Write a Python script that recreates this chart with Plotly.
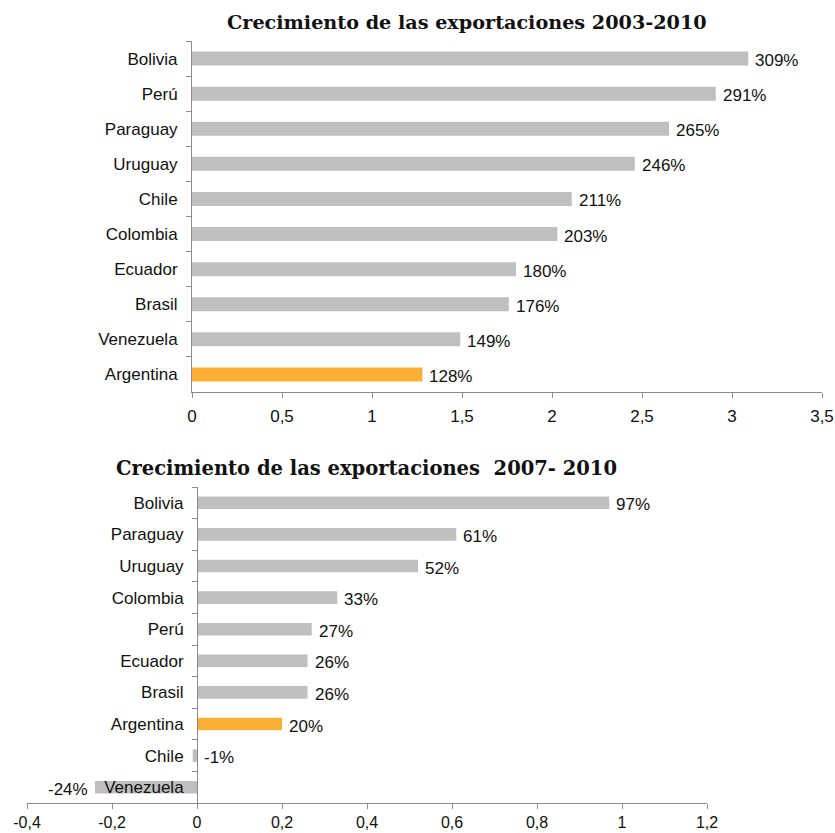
import plotly.graph_objects as go

# Export growth 2003-2010 (ratio, shown as %)
countries_0310 = ["Bolivia", "Perú", "Paraguay", "Uruguay", "Chile", "Colombia",
                  "Ecuador", "Brasil", "Venezuela", "Argentina"]
growth_0310 = [3.09, 2.91, 2.65, 2.46, 2.11, 2.03, 1.80, 1.76, 1.49, 1.28]

# Export growth 2007-2010
countries_0710 = ["Bolivia", "Paraguay", "Uruguay", "Colombia", "Perú", "Ecuador",
                  "Brasil", "Argentina", "Chile", "Venezuela"]
growth_0710 = [0.97, 0.61, 0.52, 0.33, 0.27, 0.26, 0.26, 0.20, -0.01, -0.24]

ticks_top = [0, 0.5, 1, 1.5, 2, 2.5, 3, 3.5]
ticktext_top = ["0", "0,5", "1", "1,5", "2", "2,5", "3", "3,5"]
ticks_bot = [-0.4, -0.2, 0, 0.2, 0.4, 0.6, 0.8, 1.0, 1.2]
ticktext_bot = ["-0,4", "-0,2", "0", "0,2", "0,4", "0,6", "0,8", "1", "1,2"]

title_top = "Crecimiento de las exportaciones 2003-2010"
title_bot = "Crecimiento de las exportaciones  2007- 2010"

W, H = 835, 833
GREY = "#BFBFBF"
ORANGE = "#FBB034"
AXIS = "#8C8C8C"
TEXT = "#111111"
FONT = "Liberation Sans, Arial, sans-serif"
TFONT = "DejaVu Serif, Georgia, serif"
FS = 17


def colors(names):
    return [ORANGE if n == "Argentina" else GREY for n in names]


def pct(v):
    return f"{round(v * 100):d}%"


fig = go.Figure()
fig.add_trace(go.Bar(x=growth_0310, y=countries_0310, orientation="h",
                     marker=dict(color=colors(countries_0310), line=dict(width=0)),
                     xaxis="x", yaxis="y", hoverinfo="skip"))
fig.add_trace(go.Bar(x=growth_0710, y=countries_0710, orientation="h",
                     marker=dict(color=colors(countries_0710), line=dict(width=0)),
                     xaxis="x2", yaxis="y2", hoverinfo="skip"))

annotations = []
for names, vals, xr, yr in [(countries_0310, growth_0310, "x", "y"),
                            (countries_0710, growth_0710, "x2", "y2")]:
    for n, v in zip(names, vals):
        left = v < -0.1
        annotations.append(dict(
            x=v if left else max(v, 0), y=n, xref=xr, yref=yr,
            text=pct(v), showarrow=False,
            xanchor="right" if left else "left",
            xshift=-5 if left else 5, yshift=-2,
            font=dict(family=FONT, size=FS, color=TEXT)))

annotations.append(dict(x=467 / W, y=1 - 22 / H, xref="paper", yref="paper",
                        text=f"<b>{title_top}</b>", showarrow=False,
                        xanchor="center", yanchor="middle",
                        font=dict(family=TFONT, size=19.2, color="#111")))
annotations.append(dict(x=366 / W, y=1 - 468 / H, xref="paper", yref="paper",
                        text=f"<b>{title_bot}</b>", showarrow=False,
                        xanchor="center", yanchor="middle",
                        font=dict(family=TFONT, size=19.5, color="#111")))

axis_common = dict(showgrid=False, zeroline=False, showline=True, linecolor=AXIS,
                   linewidth=1, ticks="outside", ticklen=5, tickcolor=AXIS,
                   automargin=False)
tick_font = dict(family=FONT, size=FS, color=TEXT)

fig.update_layout(
    width=W, height=H, margin=dict(l=0, r=0, t=0, b=0, autoexpand=False),
    paper_bgcolor="white", plot_bgcolor="white",
    showlegend=False, bargap=0.6,
    xaxis=dict(domain=[192 / W, 822 / W], range=[0, 3.5], anchor="y",
               tickvals=ticks_top, ticktext=ticktext_top, ticklabelstandoff=4,
               tickfont=tick_font, **axis_common),
    yaxis=dict(domain=[1 - 392 / H, 1 - 41 / H], anchor="x", autorange="reversed",
               type="category", tickson="boundaries", ticklabelstandoff=10,
               tickfont=tick_font, **axis_common),
    xaxis2=dict(domain=[27 / W, 707 / W], range=[-0.4, 1.2], anchor="y2",
                tickvals=ticks_bot, ticktext=ticktext_bot,
                tickfont=dict(family=FONT, size=16, color=TEXT), **axis_common),
    yaxis2=dict(domain=[1 - 803 / H, 1 - 487 / H], anchor="free", position=197 / W,
                autorange="reversed", type="category", tickson="boundaries",
                ticklabelstandoff=10, tickfont=tick_font, **axis_common),
    annotations=annotations,
)

fig.write_html("out.html")
